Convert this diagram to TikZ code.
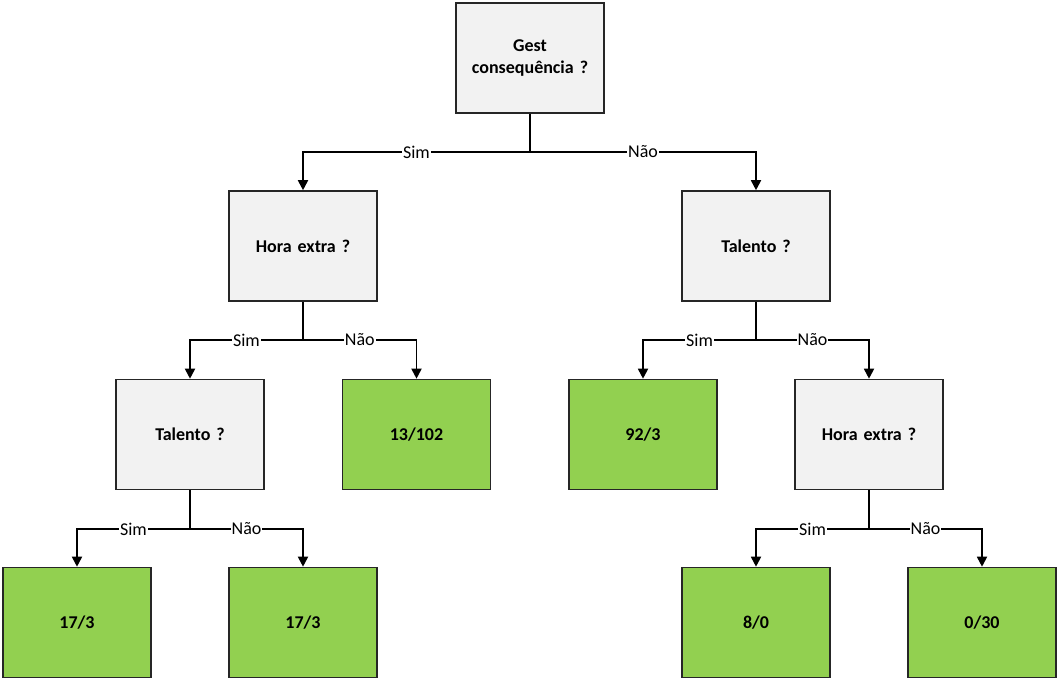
\documentclass[tikz,border=0pt]{standalone}
\usepackage{fontspec}
\setmainfont{Carlito}
\usetikzlibrary{arrows.meta}
\definecolor{qgray}{HTML}{F2F2F2}
\definecolor{leafgreen}{HTML}{92D050}
\begin{document}
\begin{tikzpicture}[x=1pt,y=-1pt,
  box/.style={draw=black!85, line width=1.6pt, minimum width=148pt, minimum height=110pt,
    font=\fontsize{18}{22}\selectfont\bfseries, align=center, text width=140pt, inner sep=0pt},
  question/.style={box, fill=qgray},
  leaf/.style={box, fill=leafgreen},
  link/.style={line width=1.8pt, black},
  arr/.style={link, -{Triangle[width=10pt,length=10pt]}},
  lbl/.style={fill=white, inner sep=1pt, font=\fontsize{18}{22}\selectfont}]
\useasboundingbox (0,0) rectangle (1060,682);
% decision nodes
\node[question] (root) at (530,58) {Gest\\consequência ?};
\node[question] (hx) at (303,246) {Hora extra ?};
\node[question] (tr) at (756,246) {Talento ?};
\node[question] (tl) at (190,434.5) {Talento ?};
\node[question] (hr) at (869,434.5) {Hora extra ?};
% leaves
\node[leaf] (n13) at (416.5,434.5) {13/102};
\node[leaf] (n92) at (643,434.5) {92/3};
\node[leaf] (la) at (77,622.5) {17/3};
\node[leaf] (lb) at (303,622.5) {17/3};
\node[leaf] (lc) at (756,622.5) {8/0};
\node[leaf] (ld) at (982,622.5) {0/30};
% branch junctions
\coordinate (j0) at (530,152);
\coordinate (j1) at (303,340);
\coordinate (j2) at (756,340);
\coordinate (j3) at (190,529);
\coordinate (j4) at (869,529);
% connectors
\draw[link] (root.south) -- (j0);
\draw[arr] (j0) -| node[lbl,pos=0.25]{Sim} (hx.north);
\draw[arr] (j0) -| node[lbl,pos=0.25]{Não} (tr.north);
\draw[link] (hx.south) -- (j1);
\draw[arr] (j1) -| node[lbl,pos=0.25]{Sim} (tl.north);
\draw[arr] (j1) -| node[lbl,pos=0.25]{Não} (n13.north);
\draw[link] (tr.south) -- (j2);
\draw[arr] (j2) -| node[lbl,pos=0.25]{Sim} (n92.north);
\draw[arr] (j2) -| node[lbl,pos=0.25]{Não} (hr.north);
\draw[link] (tl.south) -- (j3);
\draw[arr] (j3) -| node[lbl,pos=0.25]{Sim} (la.north);
\draw[arr] (j3) -| node[lbl,pos=0.25]{Não} (lb.north);
\draw[link] (hr.south) -- (j4);
\draw[arr] (j4) -| node[lbl,pos=0.25]{Sim} (lc.north);
\draw[arr] (j4) -| node[lbl,pos=0.25]{Não} (ld.north);
\end{tikzpicture}
\end{document}
